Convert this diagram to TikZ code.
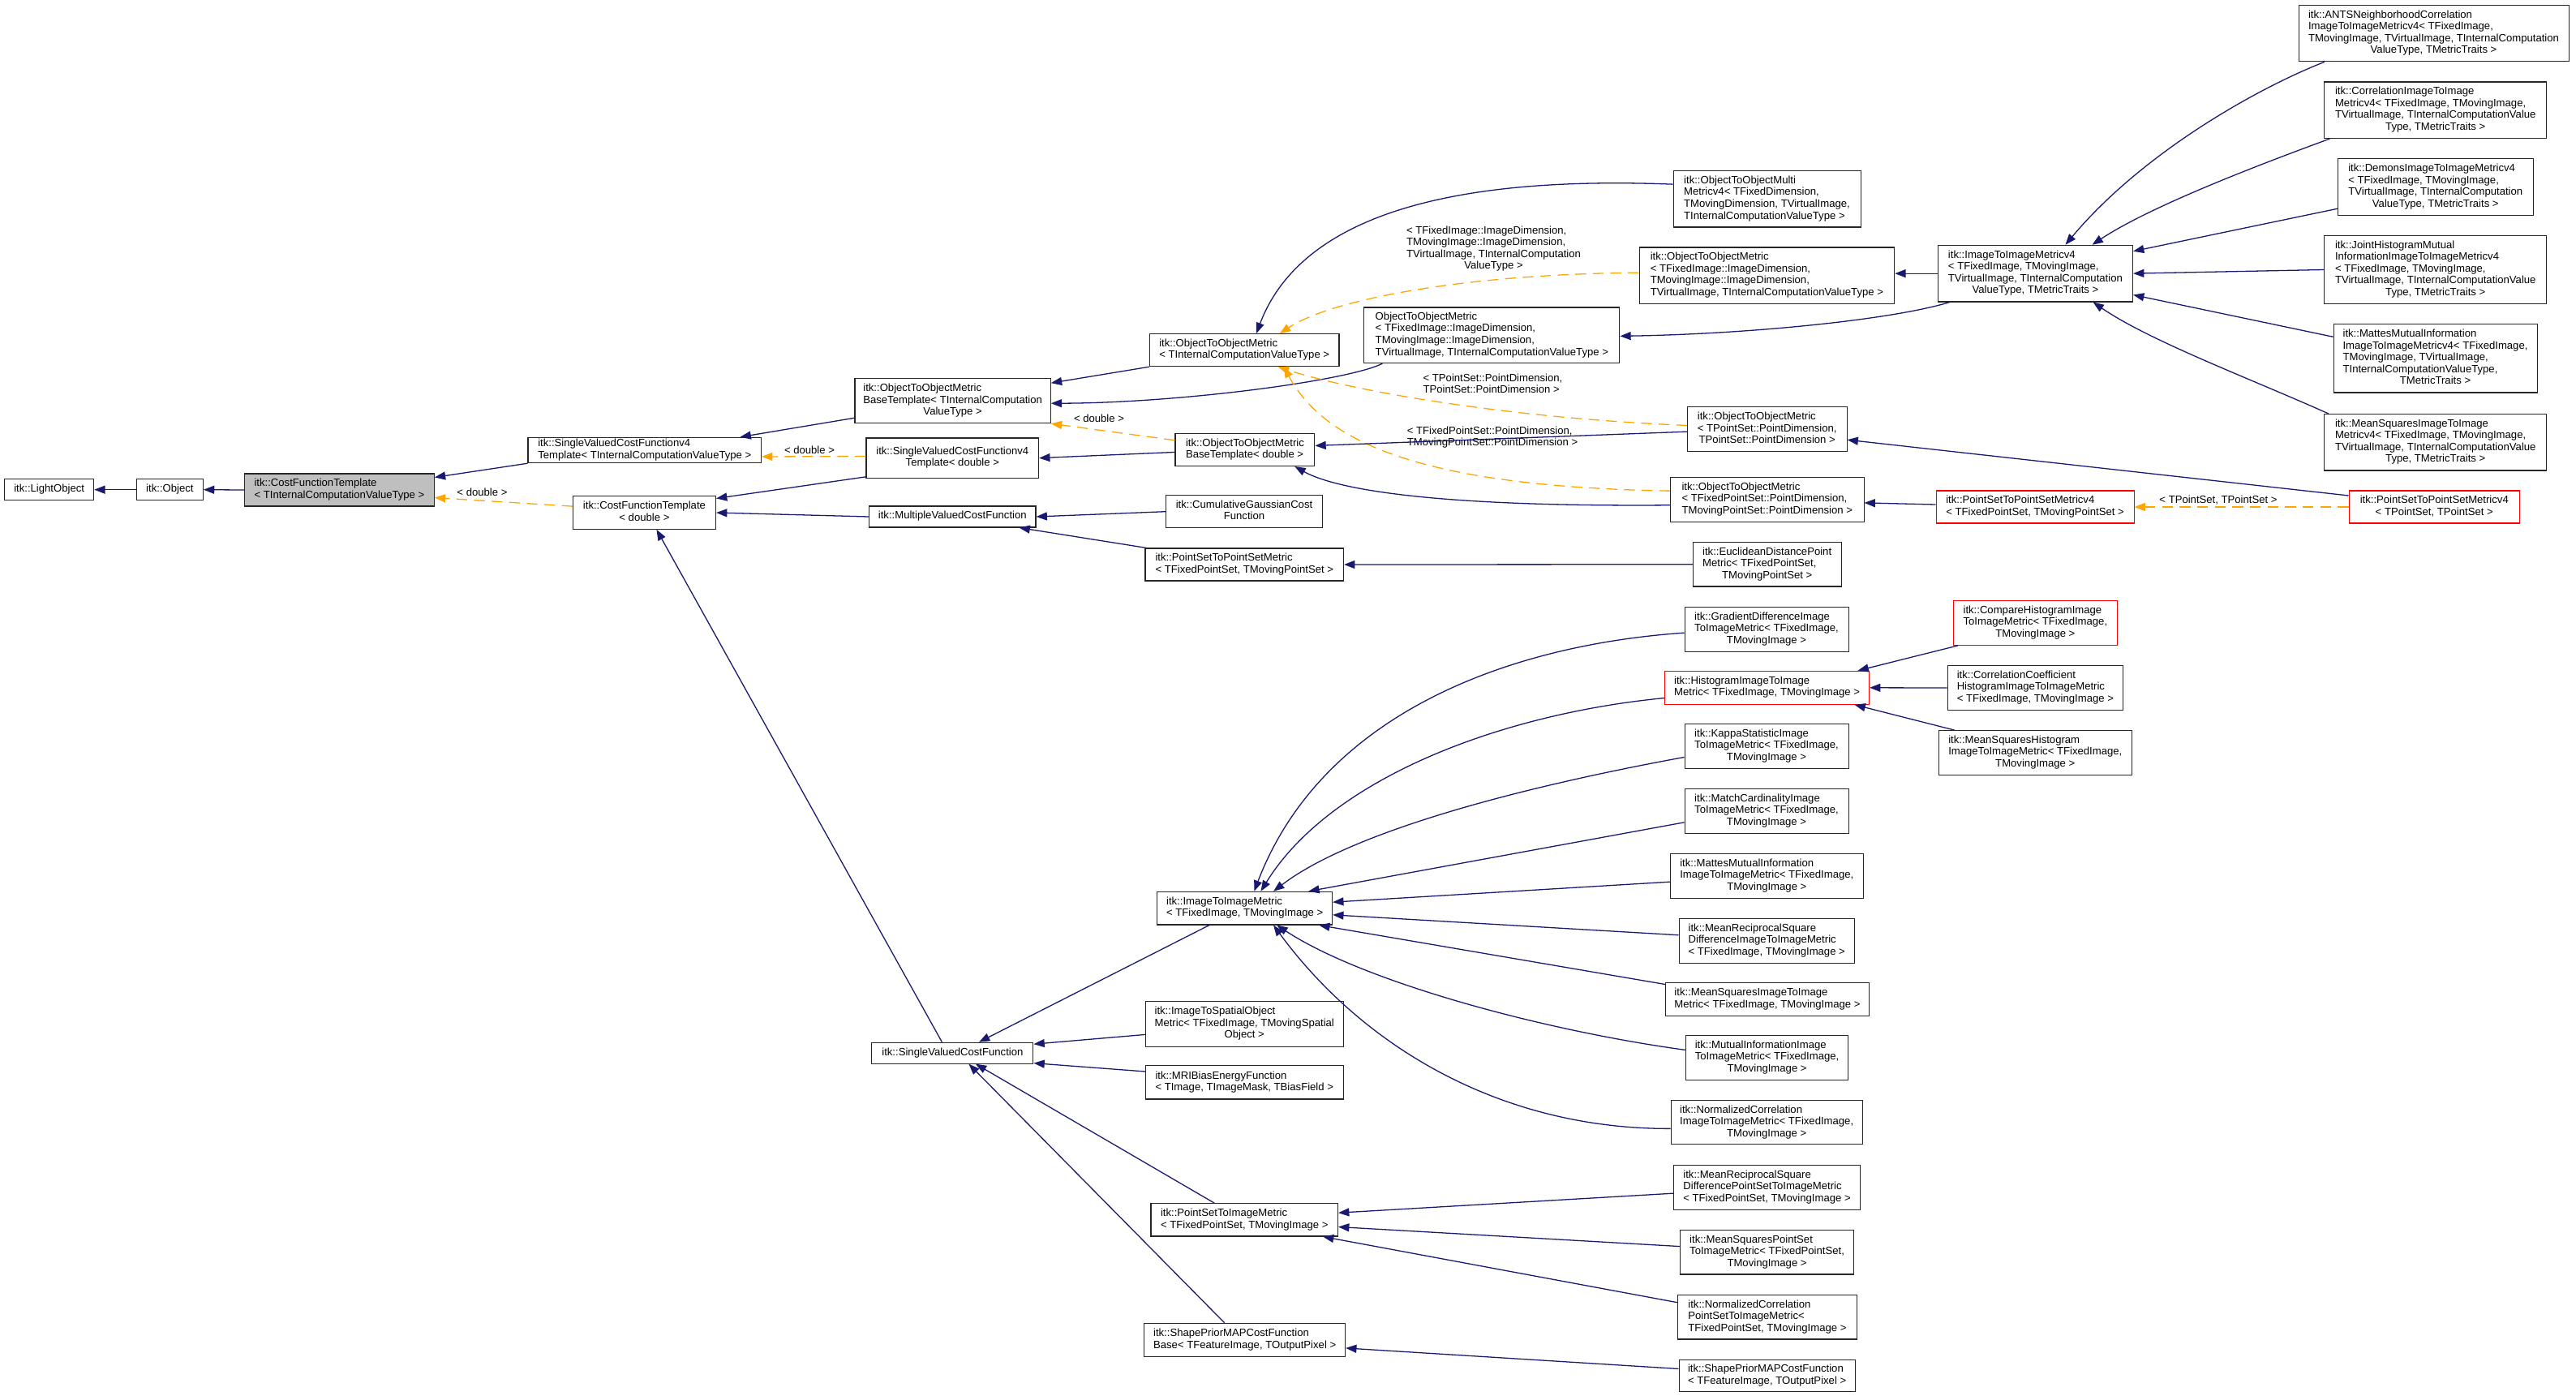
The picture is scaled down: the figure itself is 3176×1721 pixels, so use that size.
\documentclass[tikz,border=0pt]{standalone}
\usepackage{fontspec}
\setmainfont{Liberation Sans}
\usetikzlibrary{arrows.meta,calc}
\definecolor{dxnavy}{RGB}{25,25,112}
\definecolor{dxorange}{RGB}{255,165,0}
\definecolor{dxgray}{RGB}{191,191,191}
\newcommand{\dxtab}[1]{\begin{tabular}{@{}l@{}}#1\end{tabular}}
\newcommand{\dxc}[1]{\multicolumn{1}{@{}c@{}}{#1}}
\newcommand{\dxbox}[7]{%
  \pgfmathsetmacro{\dxw}{(#4-#2)*0.03}%
  \pgfmathsetmacro{\dxh}{(#5-#3)*0.03}%
  \node[box,#6,minimum width=\dxw cm,minimum height=\dxh cm] (#1) at ({(#2+#4)/2},{(#3+#5)/2}) {\dxtab{#7}};}
\tikzset{
  box/.style={draw=black!85,line width=0.9pt,fill=white,inner sep=0pt,anchor=center,font=\fontsize{11.2}{12.4}\selectfont},
  redbox/.style={draw=red},
  graybox/.style={fill=dxgray},
  lbl/.style={inner sep=0pt,anchor=center,font=\fontsize{11.2}{12.4}\selectfont},
  inh/.style={draw=dxnavy,line width=1.1pt,-{Triangle[length=0.4cm,width=0.3cm]}},
  tmpl/.style={draw=dxorange,line width=1.1pt,dash pattern=on 0.4cm off 0.25cm,-{Triangle[length=0.4cm,width=0.3cm]}}
}
\begin{document}
\begin{tikzpicture}[x=0.03cm,y=-0.03cm]
\useasboundingbox (0,0) rectangle (3176,1721);
\fill[white] (0,0) rectangle (3176,1721);
% ---- nodes ----
\dxbox{LO}{5.6}{590.7}{115.7}{616.7}{}{itk::LightObject}
\dxbox{OB}{168.4}{590.7}{250.4}{616.7}{}{itk::Object}
\dxbox{CFTT}{301.6}{584}{535.3}{624}{graybox}{itk::CostFunctionTemplate\\< TInternalComputationValueType >}
\dxbox{SVT}{651}{539.3}{938.6}{570.7}{}{itk::SingleValuedCostFunctionv4\\Template< TInternalComputationValueType >}
\dxbox{CFTd}{706.4}{611.7}{882.5}{652.3}{}{\dxc{itk::CostFunctionTemplate}\\\dxc{< double >}}
\dxbox{OOMBTT}{1054}{466.7}{1295.3}{521.7}{}{itk::ObjectToObjectMetric\\BaseTemplate< TInternalComputation\\\dxc{ValueType >}}
\dxbox{SVd}{1068}{540}{1280.6}{589.3}{}{itk::SingleValuedCostFunctionv4\\\dxc{Template< double >}}
\dxbox{MVCF}{1071.6}{624}{1277}{650}{}{itk::MultipleValuedCostFunction}
\dxbox{OOMT}{1417.4}{411.7}{1651}{451.7}{}{itk::ObjectToObjectMetric\\< TInternalComputationValueType >}
\dxbox{OOMBTd}{1449}{534.3}{1620.8}{574.6}{}{itk::ObjectToObjectMetric\\BaseTemplate< double >}
\dxbox{Cumul}{1437.5}{610.7}{1630.5}{650.7}{}{itk::CumulativeGaussianCost\\\dxc{Function}}
\dxbox{PSTPSM}{1412}{676}{1656.5}{716}{}{itk::PointSetToPointSetMetric\\< TFixedPointSet, TMovingPointSet >}
\dxbox{Multi}{2063}{210.7}{2294}{280}{}{itk::ObjectToObjectMulti\\Metricv4< TFixedDimension,\\ TMovingDimension, TVirtualImage,\\ TInternalComputationValueType >}
\dxbox{OOMFI}{2021}{305}{2335.7}{374.3}{}{itk::ObjectToObjectMetric\\< TFixedImage::ImageDimension,\\ TMovingImage::ImageDimension,\\ TVirtualImage, TInternalComputationValueType >}
\dxbox{OOMno}{1681.9}{379}{1996.8}{447.7}{}{ObjectToObjectMetric\\< TFixedImage::ImageDimension,\\ TMovingImage::ImageDimension,\\TVirtualImage, TInternalComputationValueType >}
\dxbox{OOMPS}{2080.5}{501.7}{2277}{556.7}{}{itk::ObjectToObjectMetric\\< TPointSet::PointDimension,\\\dxc{TPointSet::PointDimension >}}
\dxbox{OOMFPS}{2059.5}{588.5}{2298}{643.3}{}{itk::ObjectToObjectMetric\\< TFixedPointSet::PointDimension,\\\dxc{TMovingPointSet::PointDimension >}}
\dxbox{PSvF}{2387}{605}{2631}{645}{redbox}{itk::PointSetToPointSetMetricv4\\< TFixedPointSet, TMovingPointSet >}
\dxbox{PSvP}{2896}{605}{3106.5}{645}{redbox}{itk::PointSetToPointSetMetricv4\\\dxc{< TPointSet, TPointSet >}}
\dxbox{Eucl}{2087.3}{668.5}{2270}{723}{}{itk::EuclideanDistancePoint\\Metric< TFixedPointSet,\\\dxc{TMovingPointSet >}}
\dxbox{IIv}{2389.3}{302.3}{2629.5}{372}{}{itk::ImageToImageMetricv4\\< TFixedImage, TMovingImage,\\ TVirtualImage, TInternalComputation\\\dxc{ValueType, TMetricTraits >}}
\dxbox{ANTS}{2834}{6.3}{3167}{75.8}{}{itk::ANTSNeighborhoodCorrelation\\ImageToImageMetricv4< TFixedImage,\\ TMovingImage, TVirtualImage, TInternalComputation\\\dxc{ValueType, TMetricTraits >}}
\dxbox{Corr}{2865.7}{101}{3139.8}{170.5}{}{itk::CorrelationImageToImage\\Metricv4< TFixedImage, TMovingImage,\\ TVirtualImage, TInternalComputationValue\\\dxc{Type, TMetricTraits >}}
\dxbox{Demons}{2882.5}{195.7}{3123}{265.2}{}{itk::DemonsImageToImageMetricv4\\< TFixedImage, TMovingImage,\\ TVirtualImage, TInternalComputation\\\dxc{ValueType, TMetricTraits >}}
\dxbox{Joint}{2865.7}{290.4}{3139.8}{374.6}{}{itk::JointHistogramMutual\\InformationImageToImageMetricv4\\< TFixedImage, TMovingImage,\\ TVirtualImage, TInternalComputationValue\\\dxc{Type, TMetricTraits >}}
\dxbox{Mattesv}{2877}{399.8}{3128}{484}{}{itk::MattesMutualInformation\\ImageToImageMetricv4< TFixedImage,\\ TMovingImage, TVirtualImage,\\ TInternalComputationValueType,\\\dxc{TMetricTraits >}}
\dxbox{MSv}{2865.7}{510.5}{3139.8}{580}{}{itk::MeanSquaresImageToImage\\Metricv4< TFixedImage, TMovingImage,\\ TVirtualImage, TInternalComputationValue\\\dxc{Type, TMetricTraits >}}
\dxbox{IIM}{1426.8}{1099.3}{1642.6}{1140}{}{itk::ImageToImageMetric\\< TFixedImage, TMovingImage >}
\dxbox{Grad}{2077}{748.3}{2279}{803.3}{}{itk::GradientDifferenceImage\\ToImageMetric< TFixedImage,\\\dxc{TMovingImage >}}
\dxbox{Hist}{2052.7}{827.3}{2304.5}{868.3}{redbox}{itk::HistogramImageToImage\\Metric< TFixedImage, TMovingImage >}
\dxbox{Kappa}{2077}{892.3}{2279}{947.3}{}{itk::KappaStatisticImage\\ToImageMetric< TFixedImage,\\\dxc{TMovingImage >}}
\dxbox{Match}{2077}{972.3}{2279}{1027.3}{}{itk::MatchCardinalityImage\\ToImageMetric< TFixedImage,\\\dxc{TMovingImage >}}
\dxbox{MattesI}{2059.3}{1052.3}{2297.3}{1107.3}{}{itk::MattesMutualInformation\\ImageToImageMetric< TFixedImage,\\\dxc{TMovingImage >}}
\dxbox{MRSD}{2070}{1132.3}{2286.5}{1187.3}{}{itk::MeanReciprocalSquare\\DifferenceImageToImageMetric\\< TFixedImage, TMovingImage >}
\dxbox{MSI}{2053.3}{1211.7}{2304.6}{1252.5}{}{itk::MeanSquaresImageToImage\\Metric< TFixedImage, TMovingImage >}
\dxbox{MI}{2078.2}{1276.6}{2278.9}{1331.1}{}{itk::MutualInformationImage\\ToImageMetric< TFixedImage,\\\dxc{TMovingImage >}}
\dxbox{NCI}{2060}{1356.7}{2296.3}{1410.9}{}{itk::NormalizedCorrelation\\ImageToImageMetric< TFixedImage,\\\dxc{TMovingImage >}}
\dxbox{Compare}{2408.4}{740.7}{2610.3}{795.3}{redbox}{itk::CompareHistogramImage\\ToImageMetric< TFixedImage,\\\dxc{TMovingImage >}}
\dxbox{CorrCoef}{2401}{820.7}{2617.7}{875.3}{}{itk::CorrelationCoefficient\\HistogramImageToImageMetric\\< TFixedImage, TMovingImage >}
\dxbox{MSHist}{2390.5}{900.7}{2628}{955.3}{}{itk::MeanSquaresHistogram\\ImageToImageMetric< TFixedImage,\\\dxc{TMovingImage >}}
\dxbox{SVCF}{1074.9}{1285.2}{1273.9}{1311.1}{}{itk::SingleValuedCostFunction}
\dxbox{ISOM}{1412.4}{1234.5}{1656.1}{1290.4}{}{itk::ImageToSpatialObject\\Metric< TFixedImage, TMovingSpatial\\\dxc{Object >}}
\dxbox{MRI}{1412.4}{1313.9}{1656.1}{1355}{}{itk::MRIBiasEnergyFunction\\< TImage, TImageMask, TBiasField >}
\dxbox{PSTIM}{1419}{1483.7}{1649.5}{1524}{}{itk::PointSetToImageMetric\\< TFixedPointSet, TMovingImage >}
\dxbox{ShapeBase}{1410.7}{1631.3}{1658.6}{1672.4}{}{itk::ShapePriorMAPCostFunction\\Base< TFeatureImage, TOutputPixel >}
\dxbox{MRSDPS}{2063.3}{1436.7}{2293.8}{1491.3}{}{itk::MeanReciprocalSquare\\DifferencePointSetToImageMetric\\< TFixedPointSet, TMovingImage >}
\dxbox{MSPS}{2071.6}{1516.8}{2285.5}{1571}{}{itk::MeanSquaresPointSet\\ToImageMetric< TFixedPointSet,\\\dxc{TMovingImage >}}
\dxbox{NCPS}{2068.3}{1596.8}{2289.6}{1651}{}{itk::NormalizedCorrelation\\PointSetToImageMetric<\\ TFixedPointSet, TMovingImage >}
\dxbox{ShapePrior}{2070}{1676.2}{2287.2}{1715.9}{}{itk::ShapePriorMAPCostFunction\\< TFeatureImage, TOutputPixel >}
% ---- labels ----
\node[lbl] (lab1) at (594.5,607.3) {< double >};
\node[lbl] (lab2) at (998,555) {< double >};
\node[lbl] (lab3) at (1355,516) {< double >};
\node[lbl] (lab4) at (1841.5,307) {\dxtab{< TFixedImage::ImageDimension,\\ TMovingImage::ImageDimension,\\ TVirtualImage, TInternalComputation\\\dxc{ValueType >}}};
\node[lbl] (lab5) at (1840.5,474.8) {\dxtab{< TPointSet::PointDimension,\\ TPointSet::PointDimension >}};
\node[lbl] (lab6) at (1840,539.5) {\dxtab{< TFixedPointSet::PointDimension,\\ TMovingPointSet::PointDimension >}};
\node[lbl] (lab7) at (2735,616.6) {< TPointSet, TPointSet >};
% ---- edges ----
\draw[inh] (OB.west) -- (LO.east);
\draw[inh] (CFTT.west) -- (OB.east);
\draw[inh] (SVT.south west) -- ($(CFTT.north east)+(0,5)$);
\draw[tmpl] ($(CFTd.north west)+(0,13)$) -- ($(CFTT.south east)+(0,-11)$);
\draw[inh] ($(OOMBTT.south west)+(0,-7)$) -- ($(SVT.north east)+(-26.6,0)$);
\draw[tmpl] ($(SVd.north west)+(0,23)$) -- ($(SVT.east)+(0,8)$);
\draw[inh] ($(SVd.south west)+(0,-2)$) -- ($(CFTd.north east)+(0,3.3)$);
\draw[inh] (MVCF.west) -- (CFTd.east);
\draw[inh] ($(SVCF.north west)+(87,0)$) -- ($(CFTd.south west)+(103.6,0)$);
\draw[inh] (OOMT.south west) -- ($(OOMBTT.north east)+(0,6)$);
\draw[inh] ($(OOMno.south west)+(23,0)$) .. controls (1660,470) and (1450,497) .. ($(OOMBTT.east)+(0,3)$);
\draw[tmpl] ($(OOMBTd.north west)+(0,9)$) -- (OOMBTT.south east);
\draw[inh] ($(OOMBTd.west)+(0,3)$) -- (SVd.east);
\draw[inh] (Cumul.west) -- (MVCF.east);
\draw[inh] ($(PSTPSM.north west)+(2,0)$) -- ($(MVCF.south east)+(-21,0)$);
\draw[inh] (Eucl.west) -- (PSTPSM.east);
\draw[inh] ($(Multi.north west)+(0,17)$) .. controls (1830,218) and (1610,250) .. ($(OOMT.north west)+(132,0)$);
\draw[tmpl] ($(OOMFI.north west)+(0,31.7)$) .. controls (1800,338) and (1640,370) .. ($(OOMT.north west)+(161,0)$);
\draw[tmpl] ($(OOMPS.north west)+(0,23.3)$) .. controls (1850,515) and (1660,480) .. ($(OOMT.south west)+(159,0)$);
\draw[tmpl] ($(OOMFPS.north west)+(0,17.2)$) .. controls (1740,600) and (1630,540) .. ($(OOMT.south west)+(166,0)$);
\draw[inh] ($(OOMPS.north west)+(0,31)$) -- ($(OOMBTd.east)+(0,-5)$);
\draw[inh] ($(OOMFPS.north west)+(0,34.8)$) .. controls (1780,625) and (1650,605) .. ($(OOMBTd.south east)+(-25,0)$);
\draw[inh] ($(IIv.south west)+(15,0)$) .. controls (2330,395) and (2150,412) .. ($(OOMno.east)+(0,1)$);
\draw[inh] (IIv.west) -- ($(OOMFI.east)+(0,-2.5)$);
\draw[inh] ($(PSvP.north west)+(0,6.5)$) -- ($(OOMPS.south east)+(0,-15)$);
\draw[inh] ($(PSvF.west)+(0,-3)$) -- ($(OOMFPS.east)+(0,4)$);
\draw[tmpl] (PSvP.west) -- (PSvF.east);
\draw[inh] ($(ANTS.south west)+(32.4,0)$) .. controls (2780,110) and (2640,190) .. ($(IIv.north west)+(157.7,0)$);
\draw[inh] ($(Corr.south west)+(7.3,0)$) .. controls (2780,205) and (2650,255) .. ($(IIv.north west)+(190.7,0)$);
\draw[inh] ($(Demons.south west)+(0,-8.5)$) -- ($(IIv.north east)+(0,8)$);
\draw[inh] (Joint.west) -- (IIv.east);
\draw[inh] ($(Mattesv.north west)+(0,16)$) -- ($(IIv.south east)+(0,-9)$);
\draw[inh] ($(MSv.north west)+(5.7,0)$) .. controls (2770,465) and (2650,420) .. ($(IIv.south east)+(-49.5,0)$);
\draw[inh] ($(Grad.north west)+(0,32.4)$) .. controls (1860,795) and (1630,880) .. ($(IIM.north west)+(120,0)$);
\draw[inh] ($(Hist.south west)+(0,-8.3)$) .. controls (1850,880) and (1640,960) .. ($(IIM.north west)+(128.2,0)$);
\draw[inh] ($(Kappa.north west)+(0,41.7)$) .. controls (1850,975) and (1660,1030) .. ($(IIM.north west)+(143.8,0)$);
\draw[inh] ($(Match.south west)+(0,-14)$) -- ($(IIM.north west)+(187,0)$);
\draw[inh] ($(MattesI.north west)+(0,35.4)$) -- ($(IIM.north east)+(0,13.4)$);
\draw[inh] ($(MRSD.north west)+(0,21)$) -- ($(IIM.south east)+(0,-12.7)$);
\draw[inh] ($(MSI.north west)+(0,2.3)$) -- ($(IIM.south east)+(-17,0)$);
\draw[inh] ($(MI.north west)+(0,18.3)$) .. controls (1900,1270) and (1680,1210) .. ($(IIM.south west)+(148,0)$);
\draw[inh] ($(NCI.north west)+(0,35.2)$) .. controls (1850,1392) and (1680,1290) .. ($(IIM.south west)+(143.8,0)$);
\draw[inh] ($(Compare.south west)+(6.2,0)$) -- ($(Hist.north east)+(-14.5,0)$);
\draw[inh] (CorrCoef.west) -- (Hist.east);
\draw[inh] ($(MSHist.north west)+(20,0)$) -- ($(Hist.south east)+(-18.5,0)$);
\draw[inh] ($(IIM.south west)+(64.7,0)$) -- ($(SVCF.north west)+(132.6,0)$);
\draw[inh] ($(ISOM.south west)+(0,-15.5)$) -- ($(SVCF.north east)+(0,2.5)$);
\draw[inh] ($(MRI.north west)+(0,7.6)$) -- ($(SVCF.south east)+(0,-1)$);
\draw[inh] ($(PSTIM.north west)+(78.8,0)$) -- ($(SVCF.south west)+(128.5,0)$);
\draw[inh] ($(ShapeBase.north west)+(99.5,0)$) -- ($(SVCF.south west)+(120,0)$);
\draw[inh] ($(MRSDPS.north west)+(0,35)$) -- ($(PSTIM.north east)+(0,12)$);
\draw[inh] ($(MSPS.north west)+(0,20.3)$) -- ($(PSTIM.south east)+(0,-12)$);
\draw[inh] ($(NCPS.north west)+(0,9.4)$) -- ($(PSTIM.south east)+(-19,0)$);
\draw[inh] ($(ShapePrior.north west)+(0,11.8)$) -- ($(ShapeBase.south east)+(0,-11)$);
\end{tikzpicture}
\end{document}
